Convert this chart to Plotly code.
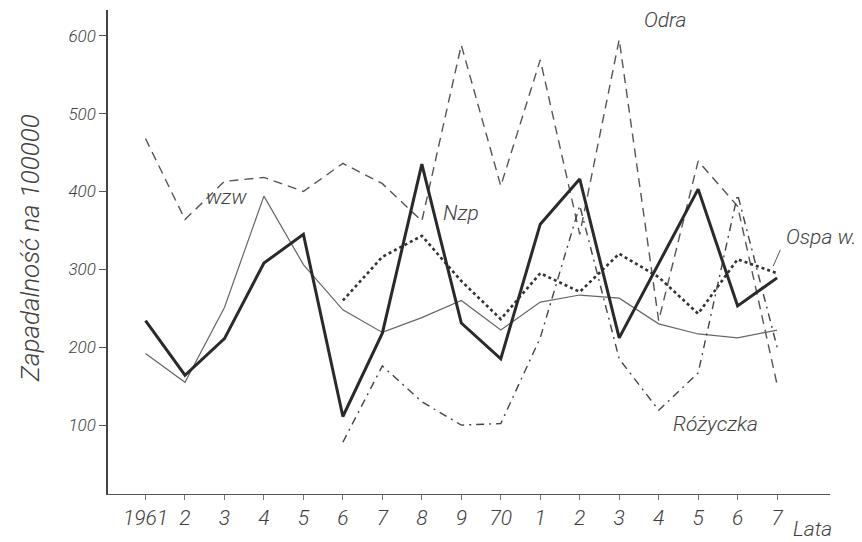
import plotly.graph_objects as go

years = list(range(1961, 1978))
tick_text = ["1961", "2", "3", "4", "5", "6", "7", "8", "9", "70", "1", "2", "3", "4", "5", "6", "7"]

wzw = [192, 155, 251, 394, 306, 248, 219, 238, 260, 222, 258, 267, 263, 230, 217, 212, 222]
nzp = [234, 164, 211, 308, 345, 111, 218, 435, 231, 185, 358, 416, 212, 307, 403, 253, 289]
odra = [468, 364, 413, 418, 400, 436, 410, 362, 588, 407, 569, 345, 595, 234, 439, 381, 152]
years_late = list(range(1966, 1978))
ospa = [260, 316, 343, 285, 236, 295, 271, 320, 290, 243, 313, 295]
rozyczka = [78, 176, 130, 100, 102, 212, 382, 185, 119, 167, 396, 200]

FONT = "Roboto, Lato, sans-serif"
INK = "#404040"

fig = go.Figure()
fig.add_trace(go.Scatter(x=years, y=odra, mode="lines", name="Odra",
                         line=dict(color="#555", width=1.4, dash="9px,6px")))
fig.add_trace(go.Scatter(x=years, y=wzw, mode="lines", name="wzw",
                         line=dict(color="#666", width=1.2)))
fig.add_trace(go.Scatter(x=years_late, y=ospa, mode="lines", name="Ospa w.",
                         line=dict(color="#333", width=2.6, dash="dot")))
fig.add_trace(go.Scatter(x=years_late, y=rozyczka, mode="lines", name="Różyczka",
                         line=dict(color="#444", width=1.4, dash="8px,5px,2px,5px")))
fig.add_trace(go.Scatter(x=years, y=nzp, mode="lines", name="Nzp",
                         line=dict(color="#2a2a2a", width=3.0)))

ann_font = dict(family=FONT, size=21, color=INK, style="italic", weight=300)
anns = [
    dict(x=1963.05, y=393, text="wzw", showarrow=False, xref="x", yref="y", font=ann_font),
    dict(x=1969.0, y=372, text="Nzp", showarrow=False, xref="x", yref="y", font=ann_font),
    dict(x=1974.15, y=620, text="Odra", showarrow=False, xref="x", yref="y", font=ann_font),
    dict(x=1978.1, y=341, text="Ospa w.", showarrow=False, xref="x", yref="y", font=ann_font),
    dict(x=1975.43, y=102, text="Różyczka", showarrow=False, xref="x", yref="y", font=ann_font),
    dict(x=1976.9, y=304, ax=1977.1, ay=327, xref="x", yref="y", axref="x", ayref="y",
         text="", showarrow=True, arrowhead=0, arrowwidth=1, arrowcolor="#555"),
    dict(x=-0.108, y=0.508, xref="paper", yref="paper", xanchor="center", yanchor="middle",
         text="Zapadalność na 100000", textangle=-90, showarrow=False,
         font=dict(family=FONT, size=26, color=INK, style="italic", weight=300)),
    dict(x=0.976, y=-0.072, xref="paper", yref="paper", xanchor="center", yanchor="middle",
         text="Lata", showarrow=False,
         font=dict(family=FONT, size=21, color=INK, style="italic", weight=300)),
]

fig.update_layout(
    width=854, height=534,
    margin=dict(l=100, r=32, t=2, b=48),
    paper_bgcolor="white", plot_bgcolor="white",
    showlegend=False,
    annotations=anns,
    xaxis=dict(range=[1960.05, 1978.34], tickvals=years, ticktext=tick_text,
               showgrid=False, zeroline=False, showline=True, linecolor="#555", linewidth=1.3,
               ticks="outside", ticklen=5, tickcolor="#777",
               tickfont=dict(family=FONT, size=21, color=INK, style="italic", weight=300)),
    yaxis=dict(range=[11.5, 633], tickvals=[100, 200, 300, 400, 500, 600],
               showgrid=False, zeroline=False, showline=True, linecolor="#444", linewidth=1.5,
               ticks="outside", ticklen=7, tickcolor="#555",
               tickfont=dict(family=FONT, size=17, color=INK, style="italic", weight=300)),
)

fig.write_html("out.html")
